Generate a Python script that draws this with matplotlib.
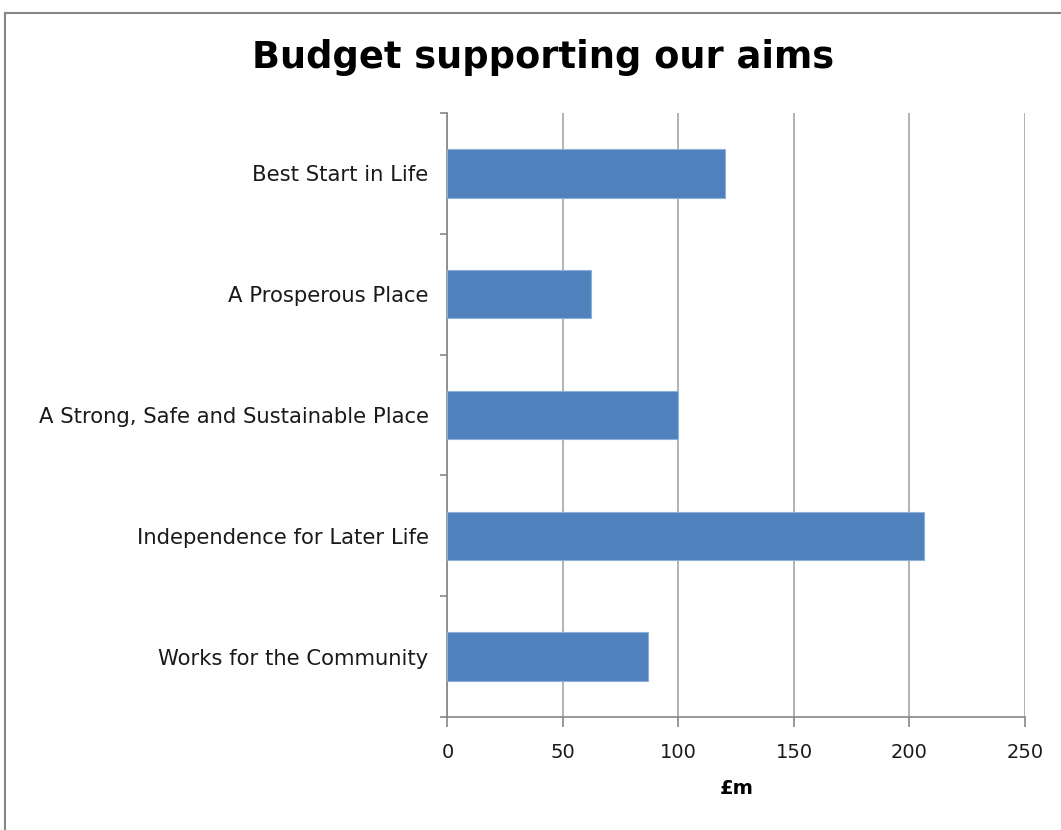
import matplotlib.pyplot as plt
from matplotlib.patches import Rectangle

# data (top to bottom)
aims = ['Best Start in Life', 'A Prosperous Place',
        'A Strong, Safe and Sustainable Place',
        'Independence for Later Life', 'Works for the Community']
budget = [120, 62, 100, 206.5, 87]
x_ticks = [0, 50, 100, 150, 200, 250]

fig = plt.figure(figsize=(10.61, 8.30), dpi=100)

# outer chart frame
fig.patches.append(Rectangle((5 / 1061, -0.1), 1.2, 1 - 13 / 830 + 0.1,
                             transform=fig.transFigure, fill=False,
                             edgecolor='#868686', linewidth=1.5))

ax = fig.add_axes([447.4 / 1061, 1 - 717 / 830, (1025 - 447.4) / 1061, (717 - 113) / 830])

pos = list(range(len(aims)))[::-1]
ax.barh(pos, budget, height=0.4, color='#4F81BD', edgecolor='#8EB1DA', linewidth=0.8, zorder=3)

ax.set_xlim(0, 250)
ax.set_ylim(-0.5, len(aims) - 0.5)
ax.set_xticks(x_ticks)
ax.set_xticklabels([str(t) for t in x_ticks], fontsize=14, color='#1a1a1a')
ax.grid(axis='x', color='#a6a6a6', linewidth=1.2, zorder=0)

# category labels sit between the tick marks
ax.set_yticks([p - 0.5 for p in range(len(aims) + 1)])
ax.set_yticklabels([])
ax.set_yticks(pos, minor=True)
ax.set_yticklabels(aims, minor=True, fontsize=15.2, color='#1a1a1a')
ax.tick_params(axis='y', which='minor', length=0, pad=13.5)
ax.tick_params(axis='y', which='major', length=5, color='#868686', width=1.2)
ax.tick_params(axis='x', length=7, color='#868686', width=1.2, pad=12)

for s in ['top', 'right']:
    ax.spines[s].set_visible(False)
for s in ['left', 'bottom']:
    ax.spines[s].set_color('#868686')
    ax.spines[s].set_linewidth(1.2)

ax.set_xlabel('£m', fontsize=14, fontweight='bold', labelpad=12)

fig.text(543 / 1061, 1 - 58 / 830, 'Budget supporting our aims',
         ha='center', va='center', fontsize=26.5, fontweight='bold')

fig.savefig('out.png', dpi=100)
